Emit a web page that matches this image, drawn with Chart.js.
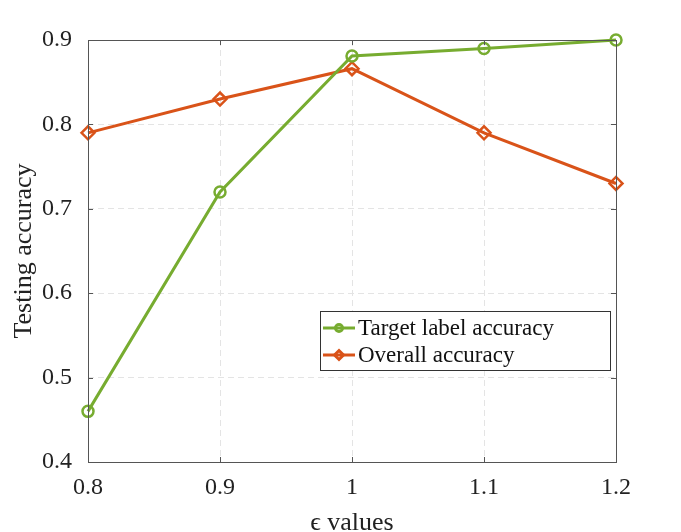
<!DOCTYPE html>
<html>
<head>
<meta charset="utf-8">
<script src="https://cdn.jsdelivr.net/npm/chart.js@4"></script>
<style>
  html, body { margin: 0; padding: 0; background: #fff; }
  #wrap { width: 681px; height: 532px; }
</style>
</head>
<body>
<div id="wrap"><canvas id="accChart" width="681" height="532"></canvas></div>
<script>
const epsValues = [0.8, 0.9, 1.0, 1.1, 1.2];
const targetAcc = [0.46, 0.72, 0.881, 0.89, 0.90];
const overallAcc = [0.79, 0.83, 0.866, 0.79, 0.73];
const xTicks = [0.8, 0.9, 1.0, 1.1, 1.2];
const yTicks = [0.4, 0.5, 0.6, 0.7, 0.8, 0.9];

const serif = "'Liberation Serif', 'Times New Roman', serif";

function toPoints(ys) {
    return epsValues.map((x, i) => ({ x: x, y: ys[i] }));
}

// box round the axes, inward ticks and the legend, MATLAB style
const boxPlugin = {
    id: 'boxPlugin',
    afterDraw(chart) {
        const ctx = chart.ctx;
        const a = chart.chartArea;
        const xs = chart.scales.x, ys = chart.scales.y;
        ctx.save();
        ctx.strokeStyle = '#555';
        ctx.lineWidth = 1;
        ctx.strokeRect(a.left + 0.5, a.top + 0.5, a.right - a.left, a.bottom - a.top);
        const t = 5;
        ctx.beginPath();
        yTicks.forEach(v => {
            const p = Math.round(ys.getPixelForValue(v)) + 0.5;
            ctx.moveTo(a.left, p); ctx.lineTo(a.left + t, p);
            ctx.moveTo(a.right, p); ctx.lineTo(a.right - t, p);
        });
        xTicks.forEach(v => {
            const p = Math.round(xs.getPixelForValue(v)) + 0.5;
            ctx.moveTo(p, a.bottom); ctx.lineTo(p, a.bottom - t);
            ctx.moveTo(p, a.top); ctx.lineTo(p, a.top + t);
        });
        ctx.stroke();

        // legend
        const lx = 320, ly = 311, lw = 290, lh = 59;
        ctx.fillStyle = '#fff';
        ctx.fillRect(lx, ly, lw, lh);
        ctx.strokeStyle = '#333';
        ctx.strokeRect(lx + 0.5, ly + 0.5, lw, lh);
        ctx.font = '23px ' + serif;
        ctx.textBaseline = 'middle';
        chart.data.datasets.forEach((ds, i) => {
            const cy = ly + 17 + i * 27;
            ctx.strokeStyle = ds.borderColor;
            ctx.fillStyle = 'rgba(0,0,0,0)';
            ctx.lineWidth = 3;
            ctx.beginPath();
            ctx.moveTo(lx + 3, cy); ctx.lineTo(lx + 35, cy);
            ctx.stroke();
            Chart.helpers.drawPoint(ctx, {
                pointStyle: ds.pointStyle, radius: ds.pointRadius - 2,
                borderWidth: 2
            }, lx + 19, cy);
            ctx.fillStyle = '#111';
            ctx.fillText(ds.label, lx + 38, cy + 1);
        });
        ctx.restore();
    }
};

const ctx = document.getElementById('accChart').getContext('2d');
const accChart = new Chart(ctx, {
    type: 'line',
    data: {
        datasets: [{
            label: 'Target label accuracy',
            data: toPoints(targetAcc),
            borderColor: '#77AC30',
            backgroundColor: 'rgba(0,0,0,0)',
            borderWidth: 3,
            pointStyle: 'circle',
            pointRadius: 5.5,
            pointBorderWidth: 2.5,
            clip: false,
            tension: 0
        }, {
            label: 'Overall accuracy',
            data: toPoints(overallAcc),
            borderColor: '#D95319',
            backgroundColor: 'rgba(0,0,0,0)',
            borderWidth: 3,
            pointStyle: 'rectRot',
            pointRadius: 6.5,
            pointBorderWidth: 2.5,
            clip: false,
            tension: 0
        }]
    },
    options: {
        responsive: false,
        animation: false,
        layout: { padding: { top: 40, right: 65, left: 0, bottom: 0 } },
        plugins: {
            legend: { display: false },
            tooltip: { enabled: false }
        },
        scales: {
            x: {
                type: 'linear',
                min: 0.8,
                max: 1.2,
                afterFit: s => { s.height = 70; },
                afterBuildTicks: s => { s.ticks = xTicks.map(v => ({ value: v })); },
                ticks: {
                    color: '#222',
                    font: { family: serif, size: 24 },
                    padding: 11,
                    callback: v => String(Math.round(v * 10) / 10)
                },
                grid: { color: '#e4e4e4', drawTicks: false },
                border: { display: false, dash: [6, 4] },
                title: {
                    display: true,
                    text: 'ϵ values',
                    color: '#222',
                    font: { family: serif, size: 26 },
                    padding: { top: 2, bottom: -7 }
                }
            },
            y: {
                min: 0.4,
                max: 0.9,
                afterFit: s => { s.width = 88; },
                afterBuildTicks: s => { s.ticks = yTicks.map(v => ({ value: v })); },
                ticks: {
                    color: '#222',
                    font: { family: serif, size: 24 },
                    padding: 16,
                    callback: v => v.toFixed(1)
                },
                grid: { color: '#e4e4e4', drawTicks: false },
                border: { display: false, dash: [6, 4] },
                title: {
                    display: true,
                    text: 'Testing accuracy',
                    color: '#222',
                    font: { family: serif, size: 26 },
                    padding: { bottom: 0, top: 9 }
                }
            }
        }
    },
    plugins: [boxPlugin]
});
</script>
</body>
</html>
